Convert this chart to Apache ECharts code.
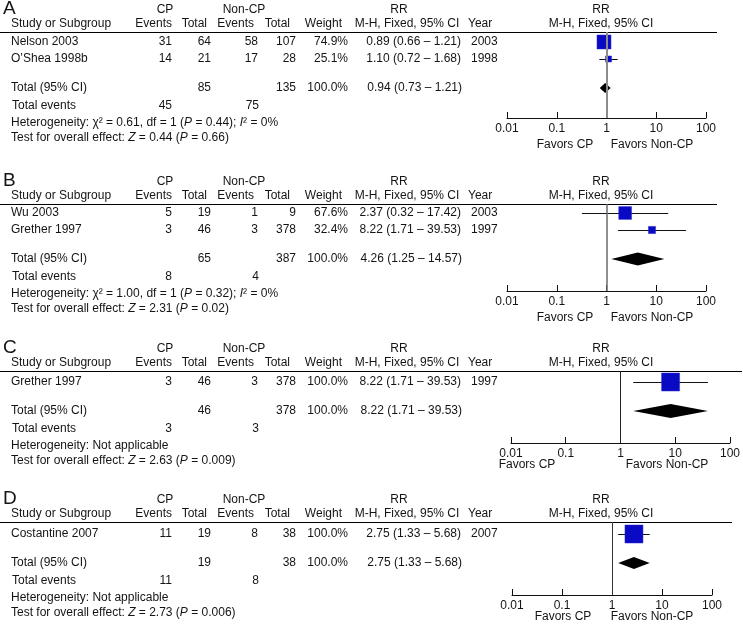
<!DOCTYPE html>
<html><head><meta charset="utf-8">
<script src="https://cdn.jsdelivr.net/npm/echarts@6/dist/echarts.min.js"></script>
<style>html,body{margin:0;padding:0;background:#fff}#chart{width:743px;height:624px}</style>
</head><body><div id="chart"></div>
<script>
// ---------------- DATA ----------------
const panelLetters = ['A', 'B', 'C', 'D'];
const tickLabels = ['0.01', '0.1', '1', '10', '100'];
const favorLabels = ['Favors CP', 'Favors Non-CP'];

// Panel A
const studiesA = ['Nelson 2003', 'O’Shea 1998b'];
const cpEventsA = [31, 14];
const cpTotalA = [64, 21];
const ncEventsA = [58, 17];
const ncTotalA = [107, 28];
const weightA = [74.9, 25.1];
const rrA = [0.89, 1.10];
const lowA = [0.66, 0.72];
const highA = [1.21, 1.68];
const yearA = [2003, 1998];
const pooledA = [0.94, 0.73, 1.21];
const totalsA = [85, 135];
const totalEventsA = [45, 75];
const hetA = 'Heterogeneity: χ² = 0.61, df = 1 ({i|P} = 0.44); {i|I}² = 0%';
const testA = 'Test for overall effect: {i|Z} = 0.44 ({i|P} = 0.66)';

// Panel B
const studiesB = ['Wu 2003', 'Grether 1997'];
const cpEventsB = [5, 3];
const cpTotalB = [19, 46];
const ncEventsB = [1, 3];
const ncTotalB = [9, 378];
const weightB = [67.6, 32.4];
const rrB = [2.37, 8.22];
const lowB = [0.32, 1.71];
const highB = [17.42, 39.53];
const yearB = [2003, 1997];
const pooledB = [4.26, 1.25, 14.57];
const totalsB = [65, 387];
const totalEventsB = [8, 4];
const hetB = 'Heterogeneity: χ² = 1.00, df = 1 ({i|P} = 0.32); {i|I}² = 0%';
const testB = 'Test for overall effect: {i|Z} = 2.31 ({i|P} = 0.02)';

// Panel C
const studiesC = ['Grether 1997'];
const cpEventsC = [3];
const cpTotalC = [46];
const ncEventsC = [3];
const ncTotalC = [378];
const weightC = [100.0];
const rrC = [8.22];
const lowC = [1.71];
const highC = [39.53];
const yearC = [1997];
const pooledC = [8.22, 1.71, 39.53];
const totalsC = [46, 378];
const totalEventsC = [3, 3];
const hetC = 'Heterogeneity: Not applicable';
const testC = 'Test for overall effect: {i|Z} = 2.63 ({i|P} = 0.009)';

// Panel D
const studiesD = ['Costantine 2007'];
const cpEventsD = [11];
const cpTotalD = [19];
const ncEventsD = [8];
const ncTotalD = [38];
const weightD = [100.0];
const rrD = [2.75];
const lowD = [1.33];
const highD = [5.68];
const yearD = [2007];
const pooledD = [2.75, 1.33, 5.68];
const totalsD = [19, 38];
const totalEventsD = [11, 8];
const hetD = 'Heterogeneity: Not applicable';
const testD = 'Test for overall effect: {i|Z} = 2.73 ({i|P} = 0.006)';

const panels = [
  {studies: studiesA, cpE: cpEventsA, cpT: cpTotalA, ncE: ncEventsA, ncT: ncTotalA, w: weightA, rr: rrA, lo: lowA, hi: highA, yr: yearA, pooled: pooledA, totals: totalsA, tev: totalEventsA, het: hetA, test: testA},
  {studies: studiesB, cpE: cpEventsB, cpT: cpTotalB, ncE: ncEventsB, ncT: ncTotalB, w: weightB, rr: rrB, lo: lowB, hi: highB, yr: yearB, pooled: pooledB, totals: totalsB, tev: totalEventsB, het: hetB, test: testB},
  {studies: studiesC, cpE: cpEventsC, cpT: cpTotalC, ncE: ncEventsC, ncT: ncTotalC, w: weightC, rr: rrC, lo: lowC, hi: highC, yr: yearC, pooled: pooledC, totals: totalsC, tev: totalEventsC, het: hetC, test: testC},
  {studies: studiesD, cpE: cpEventsD, cpT: cpTotalD, ncE: ncEventsD, ncT: ncTotalD, w: weightD, rr: rrD, lo: lowD, hi: highD, yr: yearD, pooled: pooledD, totals: totalsD, tev: totalEventsD, het: hetD, test: testD}
];

// ---------------- LAYOUT ----------------
const layout = [
  {line: 32,  row0: 42,  axis: 118, left: 507, width: 199, lineRight: 717, refColor: '#8c8c8c', refWidth: 2,   dia: 5,   favCP: 565, favNon: 652, favY: 145},
  {line: 204, row0: 213, axis: 291, left: 507, width: 199, lineRight: 717, refColor: '#6a6a6a', refWidth: 1.5, dia: 6.5, favCP: 565, favNon: 652, favY: 318},
  {line: 371, row0: 382, axis: 443, left: 511, width: 220, lineRight: 742, refColor: '#222',    refWidth: 1,   dia: 7,   favCP: 527, favNon: 667, favY: 465},
  {line: 522, row0: 534, axis: 595, left: 512, width: 200, lineRight: 732, refColor: '#333',    refWidth: 1,   dia: 6,   favCP: 563, favNon: 652, favY: 617}
];
const PITCH = 17;
const FONT = "'Liberation Sans', Arial, Helvetica, sans-serif";
const TXT = '#141414';
const BOX = '#0a0ac4';

const fmt2 = v => v.toFixed(2);
const ciText = (r, l, h) => fmt2(r) + ' (' + fmt2(l) + ' – ' + fmt2(h) + ')';

const graphics = [];
function txt(text, x, y, align, size, extra) {
  graphics.push({
    type: 'text', silent: true,
    style: Object.assign({
      text: String(text), x: x, y: y, textAlign: align || 'left', textVerticalAlign: 'middle',
      fontSize: size || 12, fontFamily: FONT, fill: TXT,
      rich: {i: {fontStyle: 'italic', fontSize: size || 12, fontFamily: FONT, fill: TXT}}
    }, extra || {})
  });
}

const grids = [], xAxes = [], yAxes = [], series = [];

panels.forEach((p, k) => {
  const L = layout[k];
  const n = p.studies.length;
  const totalRow = n + 0.7;
  const rowY = r => L.row0 + r * PITCH;
  const totalY = rowY(totalRow);
  const h1 = L.line - 22, h2 = L.line - 8;

  // headers
  txt(panelLetters[k], 3, h1 - 1, 'left', 19);
  txt('CP', 165, h1, 'center');
  txt('Non-CP', 244, h1, 'center');
  txt('RR', 399, h1, 'center');
  txt('RR', 601, h1, 'center');
  txt('Study or Subgroup', 11, h2, 'left');
  txt('Events', 172, h2, 'right');
  txt('Total', 207, h2, 'right');
  txt('Events', 254, h2, 'right');
  txt('Total', 290, h2, 'right');
  txt('Weight', 342, h2, 'right');
  txt('M-H, Fixed, 95% CI', 407, h2, 'center');
  txt('Year', 468, h2, 'left');
  txt('M-H, Fixed, 95% CI', 601, h2, 'center');
  graphics.push({type: 'line', silent: true, shape: {x1: 0, y1: L.line + 0.5, x2: L.lineRight, y2: L.line + 0.5}, style: {stroke: '#000', lineWidth: 1.2}});

  // study rows
  p.studies.forEach((s, i) => {
    const y = rowY(i);
    txt(s, 11, y, 'left');
    txt(p.cpE[i], 172, y, 'right');
    txt(p.cpT[i], 211, y, 'right');
    txt(p.ncE[i], 258, y, 'right');
    txt(p.ncT[i], 296, y, 'right');
    txt(p.w[i].toFixed(1) + '%', 348, y, 'right');
    txt(ciText(p.rr[i], p.lo[i], p.hi[i]), 461, y, 'right');
    txt(p.yr[i], 471, y, 'left');
  });
  // total
  txt('Total (95% CI)', 11, totalY, 'left');
  txt(p.totals[0], 211, totalY, 'right');
  txt(p.totals[1], 296, totalY, 'right');
  txt((100).toFixed(1) + '%', 348, totalY, 'right');
  txt(ciText(p.pooled[0], p.pooled[1], p.pooled[2]), 462, totalY, 'right');
  txt('Total events', 12, totalY + 18, 'left');
  txt(p.tev[0], 172, totalY + 18, 'right');
  txt(p.tev[1], 259, totalY + 18, 'right');
  txt(p.het, 11, totalY + 34.5, 'left');
  txt(p.test, 11, totalY + 50, 'left');
  // favors
  txt(favorLabels[0], L.favCP, L.favY, 'center');
  txt(favorLabels[1], L.favNon, L.favY, 'center');

  // plot
  grids.push({left: L.left, top: L.line, width: L.width, height: L.axis - L.line, containLabel: false});
  xAxes.push({
    type: 'log', logBase: 10, min: 0.01, max: 100, gridIndex: k, position: 'bottom',
    axisLine: {show: true, onZero: false, lineStyle: {color: '#111', width: 1}},
    axisTick: {show: true, inside: true, length: 6, lineStyle: {color: '#111', width: 1}},
    minorTick: {show: false},
    splitLine: {show: false},
    axisLabel: {
      margin: 5, fontSize: 12, fontFamily: FONT, color: TXT,
      formatter: v => tickLabels[Math.round(Math.log10(v)) + 2] || ''
    }
  });
  yAxes.push({
    type: 'value', gridIndex: k, inverse: true,
    min: -(L.row0 - L.line) / PITCH, max: (L.axis - L.row0) / PITCH,
    show: false, splitLine: {show: false}
  });

  const studyData = p.studies.map((s, i) => [p.rr[i], p.lo[i], p.hi[i], i, p.w[i]]);
  series.push({
    type: 'custom', xAxisIndex: k, yAxisIndex: k, silent: true, clip: false,
    encode: {x: [0, 1, 2], y: 3},
    data: studyData,
    renderItem: (params, api) => {
      const yv = api.value(3);
      const c = api.coord([api.value(0), yv]);
      const l = api.coord([api.value(1), yv]);
      const h = api.coord([api.value(2), yv]);
      const s = 2 + 16 * api.value(4) / 100;
      const yy = Math.round(c[1]) + 0.5;
      return {type: 'group', children: [
        {type: 'line', shape: {x1: l[0], y1: yy, x2: h[0], y2: yy}, style: {stroke: '#111', lineWidth: 1}},
        {type: 'rect', shape: {x: c[0] - s / 2, y: c[1] - s / 2, width: s, height: s}, style: {fill: BOX, stroke: '#2a2ad0', lineWidth: 0.5}}
      ]};
    },
    z: 3
  });
  series.push({
    type: 'custom', xAxisIndex: k, yAxisIndex: k, silent: true, clip: false,
    encode: {x: [0, 1, 2], y: 3},
    data: [[p.pooled[0], p.pooled[1], p.pooled[2], totalRow]],
    renderItem: (params, api) => {
      const yv = api.value(3);
      const c = api.coord([api.value(0), yv]);
      const l = api.coord([api.value(1), yv]);
      const h = api.coord([api.value(2), yv]);
      const d = L.dia;
      return {type: 'polygon', shape: {points: [[l[0], c[1]], [c[0], c[1] - d], [h[0], c[1]], [c[0], c[1] + d]]}, style: {fill: '#000'}};
    },
    markLine: {
      silent: true, symbol: 'none', animation: false,
      label: {show: false},
      lineStyle: {color: L.refColor, width: L.refWidth, type: 'solid'},
      data: [{xAxis: 1}]
    },
    z: 4
  });
});

const chart = echarts.init(document.getElementById('chart'), null, {renderer: 'canvas'});
chart.setOption({
  animation: false,
  backgroundColor: '#fff',
  grid: grids,
  xAxis: xAxes,
  yAxis: yAxes,
  series: series,
  graphic: graphics
});
</script>
</body></html>
